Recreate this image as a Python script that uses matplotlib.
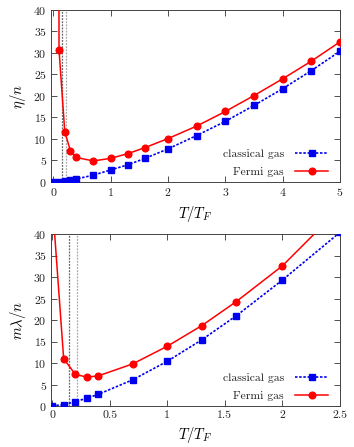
import matplotlib
matplotlib.use("Agg")
import matplotlib.pyplot as plt

plt.rcParams['font.family'] = ['cmr10', 'DejaVu Serif']
plt.rcParams['mathtext.fontset'] = 'cm'
plt.rcParams['axes.unicode_minus'] = False
plt.rcParams['axes.formatter.use_mathtext'] = True

# Top panel: shear viscosity eta/n
t_top = [0.0, 0.1, 0.2, 0.3, 0.4, 0.7, 1.0, 1.3, 1.6, 2.0, 2.5, 3.0, 3.5, 4.0, 4.5, 5.0]
eta_classical = [0.0, 0.1, 0.25, 0.45, 0.7, 1.6, 2.8, 4.0, 5.5, 7.7, 10.8, 14.1, 17.8, 21.7, 25.9, 30.4]
eta_fermi_t = [0.07, 0.1, 0.2, 0.3, 0.4, 0.7, 1.0, 1.3, 1.6, 2.0, 2.5, 3.0, 3.5, 4.0, 4.5, 5.0]
eta_fermi = [300.0, 30.7, 11.7, 7.2, 5.7, 4.9, 5.5, 6.6, 8.0, 10.1, 13.0, 16.4, 20.1, 24.0, 28.1, 32.6]

# Bottom panel: thermal conductivity m*lambda/n
t_bot = [0.0, 0.1, 0.2, 0.3, 0.4, 0.7, 1.0, 1.3, 1.6, 2.0, 2.5]
lam_classical = [0.05, 0.3, 1.0, 1.8, 2.7, 6.1, 10.4, 15.4, 21.0, 29.3, 40.4]
lam_fermi = [48.0, 11.0, 7.4, 6.7, 7.0, 9.8, 13.9, 18.7, 24.3, 32.6, 46.0]

vlines = [0.15, 0.22]

W, H = 354, 447
fig = plt.figure(figsize=(W/100, H/100), dpi=100)

def make_ax(top_px, bot_px):
    l, r = 51, 340
    return fig.add_axes([l/W, 1-bot_px/H, (r-l)/W, (bot_px-top_px)/H])

ax1 = make_ax(10, 182)
ax2 = make_ax(234, 406)

def style(ax):
    ax.tick_params(direction='in', top=True, right=True, length=4, width=0.6,
                   labelsize=8.5, colors='#333333', labelcolor='#222222', pad=3)
    for s in ax.spines.values():
        s.set_color('#444444')
        s.set_linewidth(0.7)

def draw(ax, tx_c, yc, tx_f, yf):
    ax.axvline(vlines[0], color='#666666', lw=0.9, ls=(0, (1.5, 1)), zorder=1)
    ax.axvline(vlines[1], color='#aaaaaa', lw=0.9, ls=(0, (1.5, 1)), zorder=1)
    ax.plot(tx_c, yc, color='#0000ee', ls=(0, (1.5, 1)), lw=1.2, marker='s',
            markersize=4.8, label='classical gas', zorder=3)
    ax.plot(tx_f, yf, color='#ff0000', ls='-', lw=1.1, marker='o',
            markersize=4.8, label='Fermi gas', zorder=3)
    ax.set_ylim(0, 40)
    ax.set_yticks(range(0, 41, 5))
    leg = ax.legend(loc='lower right', frameon=False, markerfirst=False,
                    fontsize=8.4, handlelength=2.8, handletextpad=1.0,
                    borderaxespad=0.0, labelspacing=0.7,
                    bbox_to_anchor=(0.975, 0.002))
    for t in leg.get_texts():
        t.set_color('#222222')

draw(ax1, t_top, eta_classical, eta_fermi_t, eta_fermi)
ax1.set_xlim(-0.04, 5)
ax1.set_xticks([0, 1, 2, 3, 4, 5])
ax1.set_xlabel(r'$T/T_F$', fontsize=10.5, labelpad=4)
ax1.set_ylabel(r'$\eta/n$', fontsize=10.5, labelpad=4)
style(ax1)

draw(ax2, t_bot, lam_classical, t_bot, lam_fermi)
ax2.set_xlim(-0.01, 2.5)
ax2.set_xticks([0, 0.5, 1, 1.5, 2, 2.5])
ax2.set_xticklabels(['0', '0.5', '1', '1.5', '2', '2.5'])
ax2.set_xlabel(r'$T/T_F$', fontsize=10.5, labelpad=4)
ax2.set_ylabel(r'$m\lambda/n$', fontsize=10.5, labelpad=4)
style(ax2)

fig.savefig('out.png', dpi=100)
